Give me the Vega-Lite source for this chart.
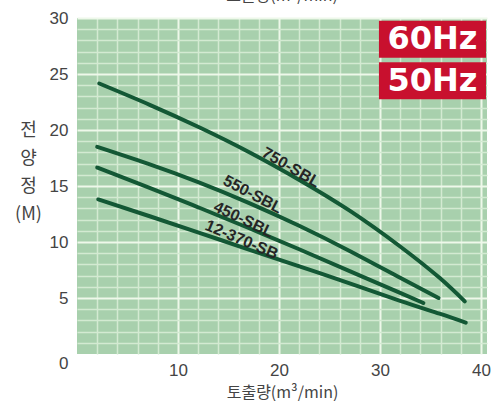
{
  "$schema": "https://vega.github.io/schema/vega-lite/v6.json",
  "width": 410,
  "height": 336,
  "autosize": {"type": "none"},
  "padding": {"left": 77, "top": 18, "right": 7, "bottom": 47},
  "background": "white",
  "title": {"text": "토출량(m³/min)", "orient": "top", "anchor": "middle", "offset": -8, "baseline": "alphabetic", "font": "Noto Sans CJK KR", "fontSize": 16, "fontWeight": "normal", "color": "#444444"},
  "config": {"view": {"fill": "#a8d0ad", "stroke": null}},
  "datasets": {
    "curves": [
      {"model": "750-SBL", "q": 2.2, "h": 24.15},
      {"model": "750-SBL", "q": 7.2, "h": 22.25},
      {"model": "750-SBL", "q": 12.2, "h": 20.2},
      {"model": "750-SBL", "q": 17.2, "h": 17.95},
      {"model": "750-SBL", "q": 22.1, "h": 15.5},
      {"model": "750-SBL", "q": 27.0, "h": 12.8},
      {"model": "750-SBL", "q": 32.0, "h": 9.6},
      {"model": "750-SBL", "q": 35.9, "h": 6.8},
      {"model": "750-SBL", "q": 38.4, "h": 4.7},
      {"model": "550-SBL", "q": 2.0, "h": 18.5},
      {"model": "550-SBL", "q": 7.0, "h": 17.0},
      {"model": "550-SBL", "q": 12.0, "h": 15.35},
      {"model": "550-SBL", "q": 17.0, "h": 13.5},
      {"model": "550-SBL", "q": 22.0, "h": 11.45},
      {"model": "550-SBL", "q": 27.0, "h": 9.2},
      {"model": "550-SBL", "q": 32.0, "h": 6.8},
      {"model": "550-SBL", "q": 35.8, "h": 5.0},
      {"model": "450-SBL", "q": 2.0, "h": 16.65},
      {"model": "450-SBL", "q": 7.0, "h": 14.9},
      {"model": "450-SBL", "q": 12.0, "h": 13.1},
      {"model": "450-SBL", "q": 17.0, "h": 11.25},
      {"model": "450-SBL", "q": 22.0, "h": 9.35},
      {"model": "450-SBL", "q": 27.0, "h": 7.4},
      {"model": "450-SBL", "q": 32.0, "h": 5.45},
      {"model": "450-SBL", "q": 34.3, "h": 4.55},
      {"model": "12-370-SB", "q": 2.1, "h": 13.8},
      {"model": "12-370-SB", "q": 7.2, "h": 12.3},
      {"model": "12-370-SB", "q": 12.2, "h": 10.8},
      {"model": "12-370-SB", "q": 17.1, "h": 9.3},
      {"model": "12-370-SB", "q": 22.1, "h": 7.8},
      {"model": "12-370-SB", "q": 27.0, "h": 6.3},
      {"model": "12-370-SB", "q": 32.0, "h": 4.75},
      {"model": "12-370-SB", "q": 35.9, "h": 3.6},
      {"model": "12-370-SB", "q": 38.5, "h": 2.8}
    ],
    "labels": [
      {"model": "750-SBL", "q": 21.2, "h": 16.65},
      {"model": "550-SBL", "q": 17.4, "h": 14.25},
      {"model": "450-SBL", "q": 16.5, "h": 12.0},
      {"model": "12-370-SB", "q": 16.3, "h": 10.2}
    ],
    "badges": [
      {"label": "60Hz", "q": 29.9, "q2": 40.5, "h": 29.75, "h2": 26.45},
      {"label": "50Hz", "q": 29.9, "q2": 40.5, "h": 26.05, "h2": 22.75}
    ],
    "badge_text": [
      {"label": "60Hz", "q": 35.2, "h": 28.1},
      {"label": "50Hz", "q": 35.2, "h": 24.4}
    ]
  },
  "encoding": {
    "x": {
      "field": "q", "type": "quantitative",
      "scale": {"domain": [0, 40.6], "nice": false, "zero": false},
      "axis": {
        "values": [2, 4, 6, 8, 10, 12, 14, 16, 18, 20, 22, 24, 26, 28, 30, 32, 34, 36, 38, 40],
        "labelExpr": "datum.value % 10 == 0 ? datum.label : ''",
        "labelOverlap": false, "labelFlush": false, "labelBound": false,
        "domain": false, "ticks": false, "tickSize": 0,
        "labelFont": "Liberation Sans", "labelFontSize": 17, "labelColor": "#444444", "labelPadding": 8,
        "grid": true,
        "gridColor": {"condition": {"test": "datum.value % 10 == 0", "value": "#eef8ea"}, "value": "#d3ead2"},
        "gridWidth": {"condition": {"test": "datum.value % 10 == 0", "value": 2}, "value": 1.5},
        "title": "토출량(m³/min)", "titleFont": "Noto Sans CJK KR", "titleFontSize": 16, "titleFontWeight": "normal", "titleColor": "#444444", "titlePadding": 6
      }
    },
    "y": {
      "field": "h", "type": "quantitative",
      "scale": {"domain": [0, 30], "nice": false, "zero": false},
      "axis": {
        "values": [0, 1, 2, 3, 4, 5, 6, 7, 8, 9, 10, 11, 12, 13, 14, 15, 16, 17, 18, 19, 20, 21, 22, 23, 24, 25, 26, 27, 28, 29, 30],
        "labelExpr": "datum.value % 5 == 0 ? datum.label : ''",
        "labelOverlap": false, "labelFlush": false, "labelBound": false,
        "domain": false, "ticks": false, "tickSize": 0,
        "labelFont": "Liberation Sans", "labelFontSize": 17, "labelColor": "#444444", "labelPadding": 9,
        "labelOffset": {"condition": {"test": "datum.value == 0", "value": 9}, "value": 0},
        "grid": true,
        "gridColor": {"condition": {"test": "datum.value % 5 == 0", "value": "#eef8ea"}, "value": "#d3ead2"},
        "gridWidth": {"condition": {"test": "datum.value % 5 == 0", "value": 2}, "value": 1.5},
        "gridOpacity": {"condition": {"test": "datum.value == 0", "value": 0}, "value": 1},
        "title": ["전", "양", "정", "", "(M)"],
        "titleAngle": 0, "titleAlign": "center", "titleBaseline": "middle",
        "titleX": -49, "titleY": 112, "titleLineHeight": 28,
        "titleFont": "Noto Sans CJK KR", "titleFontSize": 18, "titleFontWeight": "normal", "titleColor": "#444444"
      }
    }
  },
  "layer": [
    {
      "data": {"name": "curves"},
      "mark": {"type": "line", "color": "#135835", "strokeWidth": 4, "interpolate": "natural", "strokeCap": "round"},
      "encoding": {
        "detail": {"field": "model", "type": "nominal"},
        "order": {"field": "q", "type": "quantitative"}
      }
    },
    {
      "data": {"name": "labels"},
      "mark": {"type": "text", "font": "Liberation Sans", "fontWeight": "bold", "fontSize": 16, "color": "#262626", "align": "center", "baseline": "middle"},
      "encoding": {
        "text": {"field": "model", "type": "nominal"},
        "angle": {"field": "model", "type": "nominal", "scale": {"domain": ["750-SBL", "550-SBL", "450-SBL", "12-370-SB"], "range": [30, 23, 22, 19]}, "legend": null}
      }
    },
    {
      "data": {"name": "badges"},
      "mark": {"type": "rect", "color": "#c8102e"},
      "encoding": {
        "x2": {"field": "q2"},
        "y2": {"field": "h2"}
      }
    },
    {
      "data": {"name": "badge_text"},
      "mark": {"type": "text", "font": "DejaVu Sans", "fontWeight": "bold", "fontSize": 32, "color": "white", "align": "center", "baseline": "middle"},
      "encoding": {
        "text": {"field": "label", "type": "nominal"}
      }
    }
  ]
}
